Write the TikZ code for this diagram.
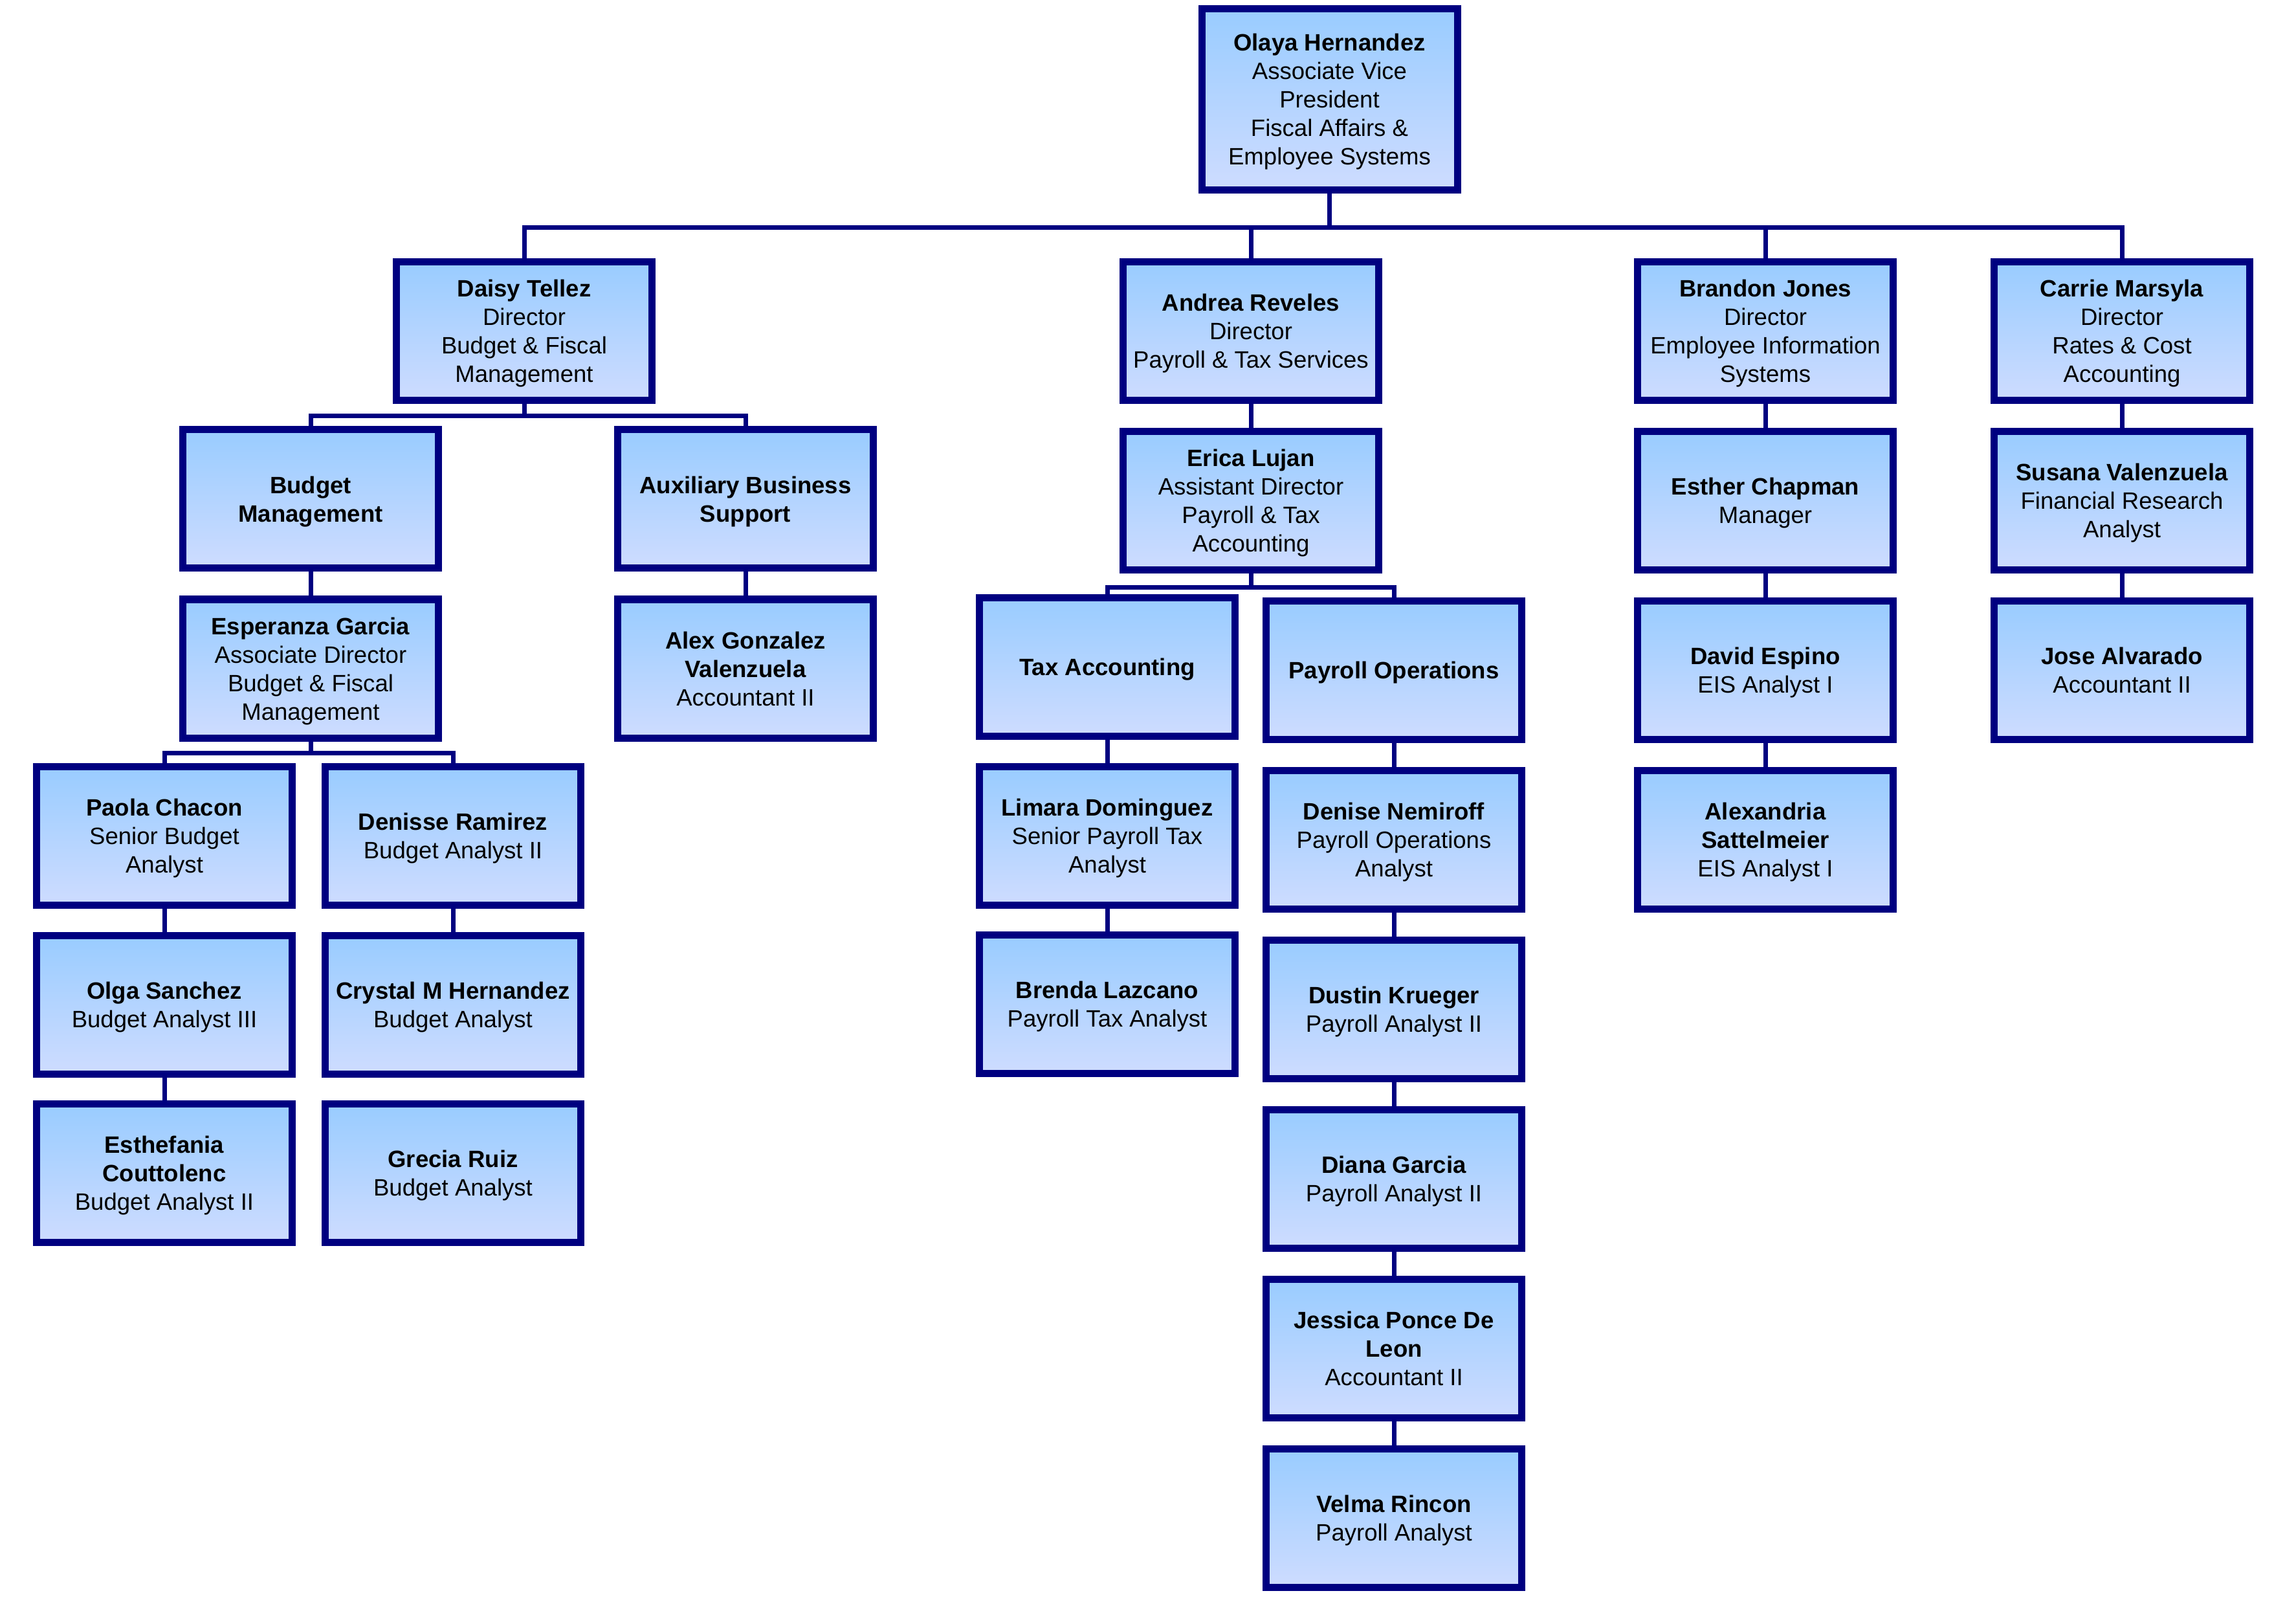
\documentclass[tikz,border=0pt]{standalone}
\usepackage{fontspec}
\setmainfont{Liberation Sans}
\usepackage{tikz}
\usetikzlibrary{positioning, arrows.meta, calc}

\definecolor{navyline}{RGB}{0,0,128}
\definecolor{boxtop}{RGB}{153,204,255}
\definecolor{boxbottom}{RGB}{206,220,255}

\begin{document}
\begin{tikzpicture}[node distance=3.7mm, box/.style={draw=navyline,line width=1.1mm,top color=boxtop,bottom color=boxbottom,minimum width=39.5mm,minimum height=21.4mm,align=center,inner sep=1mm,text depth=0pt,font=\fontsize{10.4}{12.5}\selectfont}, link/.style={draw=navyline,line width=0.7mm}]
  \useasboundingbox (0,0) rectangle (35.48,-24.75);
  % top and directors
  \node[box, minimum height=28mm] (olaya) at (20.545,-1.535) {\textbf{Olaya Hernandez}\\Associate Vice\\President\\Fiscal Affairs \&\\Employee Systems};
  \node[box] (daisy) at (8.10,-5.115) {\textbf{Daisy Tellez}\\Director\\Budget \& Fiscal\\Management};
  \node[box] (andrea) at (19.33,-5.115) {\textbf{Andrea Reveles}\\Director\\Payroll \& Tax Services};
  \node[box] (brandon) at (27.28,-5.115) {\textbf{Brandon Jones}\\Director\\Employee Information\\Systems};
  \node[box] (carrie) at (32.79,-5.115) {\textbf{Carrie Marsyla}\\Director\\Rates \& Cost\\Accounting};
  % budget & fiscal management
  \node[box] (budget) at (4.80,-7.71) {\textbf{Budget}\\\textbf{Management}};
  \node[box] (auxsupport) at (11.52,-7.71) {\textbf{Auxiliary Business}\\\textbf{Support}};
  \node[box, below=of budget] (esperanza) {\textbf{Esperanza Garcia}\\Associate Director\\Budget \& Fiscal\\Management};
  \node[box, below=of auxsupport] (alex) {\textbf{Alex Gonzalez}\\\textbf{Valenzuela}\\Accountant II};
  \node[box] (paola) at (2.54,-12.915) {\textbf{Paola Chacon}\\Senior Budget\\Analyst};
  \node[box] (denisse) at (7.00,-12.915) {\textbf{Denisse Ramirez}\\Budget Analyst II};
  \node[box, below=3.55mm of paola] (olga) {\textbf{Olga Sanchez}\\Budget Analyst III};
  \node[box, below=3.55mm of denisse] (crystal) {\textbf{Crystal M Hernandez}\\Budget Analyst};
  \node[box, below=3.55mm of olga] (esthefania) {\textbf{Esthefania}\\\textbf{Couttolenc}\\Budget Analyst II};
  \node[box, below=3.55mm of crystal] (grecia) {\textbf{Grecia Ruiz}\\Budget Analyst};
  % payroll & tax services
  \node[box, below=of andrea] (erica) {\textbf{Erica Lujan}\\Assistant Director\\Payroll \& Tax\\Accounting};
  \node[box] (taxacct) at (17.11,-10.305) {\textbf{Tax Accounting}};
  \node[box] (payrollops) at (21.54,-10.355) {\textbf{Payroll Operations}};
  \node[box, below=3.55mm of taxacct] (limara) {\textbf{Limara Dominguez}\\Senior Payroll Tax\\Analyst};
  \node[box, below=3.55mm of limara] (brenda) {\textbf{Brenda Lazcano}\\Payroll Tax Analyst};
  \node[box, below=of payrollops] (denise) {\textbf{Denise Nemiroff}\\Payroll Operations\\Analyst};
  \node[box, below=of denise] (dustin) {\textbf{Dustin Krueger}\\Payroll Analyst II};
  \node[box, below=of dustin] (diana) {\textbf{Diana Garcia}\\Payroll Analyst II};
  \node[box, below=of diana] (jessica) {\textbf{Jessica Ponce De}\\\textbf{Leon}\\Accountant II};
  \node[box, below=of jessica] (velma) {\textbf{Velma Rincon}\\Payroll Analyst};
  % employee information systems
  \node[box, below=of brandon] (esther) {\textbf{Esther Chapman}\\Manager};
  \node[box, below=of esther] (david) {\textbf{David Espino}\\EIS Analyst I};
  \node[box, below=of david] (alexandria) {\textbf{Alexandria}\\\textbf{Sattelmeier}\\EIS Analyst I};
  % rates & cost accounting
  \node[box, below=of carrie] (susana) {\textbf{Susana Valenzuela}\\Financial Research\\Analyst};
  \node[box, below=of susana] (jose) {\textbf{Jose Alvarado}\\Accountant II};

  % connectors
  \draw[link] (olaya.south) -- ++(0,-0.525) -| (daisy.north);
  \draw[link] (olaya.south) -- ++(0,-0.525) -| (andrea.north);
  \draw[link] (olaya.south) -- ++(0,-0.525) -| (brandon.north);
  \draw[link] (olaya.south) -- ++(0,-0.525) -| (carrie.north);
  \draw[link] (daisy.south) -- ++(0,-0.19) -| (budget.north);
  \draw[link] (daisy.south) -- ++(0,-0.19) -| (auxsupport.north);
  \draw[link] (esperanza.south) -- ++(0,-0.18) -| (paola.north);
  \draw[link] (esperanza.south) -- ++(0,-0.18) -| (denisse.north);
  \draw[link] (erica.south) -- ++(0,-0.22) -| (taxacct.north);
  \draw[link] (erica.south) -- ++(0,-0.22) -| (payrollops.north);
  \draw[link] (budget) -- (esperanza);
  \draw[link] (auxsupport) -- (alex);
  \draw[link] (paola) -- (olga);
  \draw[link] (olga) -- (esthefania);
  \draw[link] (denisse) -- (crystal);
  \draw[link] (andrea) -- (erica);
  \draw[link] (taxacct) -- (limara);
  \draw[link] (limara) -- (brenda);
  \draw[link] (payrollops) -- (denise);
  \draw[link] (denise) -- (dustin);
  \draw[link] (dustin) -- (diana);
  \draw[link] (diana) -- (jessica);
  \draw[link] (jessica) -- (velma);
  \draw[link] (brandon) -- (esther);
  \draw[link] (esther) -- (david);
  \draw[link] (david) -- (alexandria);
  \draw[link] (carrie) -- (susana);
  \draw[link] (susana) -- (jose);
\end{tikzpicture}
\end{document}
